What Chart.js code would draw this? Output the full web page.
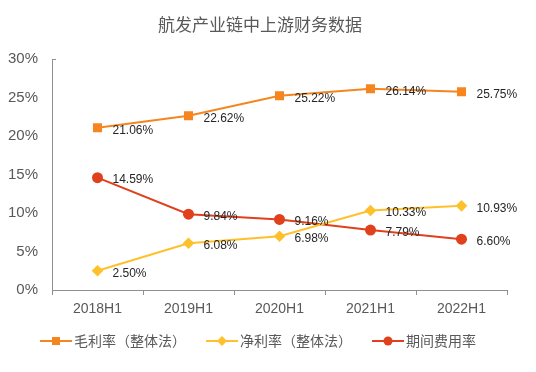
<!DOCTYPE html>
<html>
<head>
<meta charset="utf-8">
<script src="https://cdn.jsdelivr.net/npm/chart.js@4"></script>
<style>
html,body{margin:0;padding:0;background:#fff;}
#wrap{width:536px;height:372px;position:relative;}
</style>
</head>
<body>
<div id="wrap"><canvas id="c" width="536" height="372"></canvas></div>
<script>
const chartTitle = '航发产业链中上游财务数据';
const categories = ['2018H1', '2019H1', '2020H1', '2021H1', '2022H1'];
const grossMargin = [21.06, 22.62, 25.22, 26.14, 25.75];
const netMargin = [2.50, 6.08, 6.98, 10.33, 10.93];
const expenseRatio = [14.59, 9.84, 9.16, 7.79, 6.60];
const seriesNames = ['毛利率（整体法）', '净利率（整体法）', '期间费用率'];
const yTicks = [0, 5, 10, 15, 20, 25, 30];

const COL_ORANGE = '#F5861F';
const COL_YELLOW = '#FEC02B';
const COL_RED = '#E0401C';
const TEXT_GRAY = '#595959';
const AXIS_GRAY = '#8f8f8f';
const CJK = '"Noto Sans CJK SC", "Noto Sans", sans-serif';
const LAT = '"Liberation Sans", Arial, sans-serif';

const labelsPlugin = {
  id: 'pointLabels',
  afterDatasetsDraw(chart) {
    const ctx = chart.ctx;
    ctx.save();
    ctx.font = '12px ' + LAT;
    ctx.fillStyle = '#262626';
    ctx.textAlign = 'left';
    ctx.textBaseline = 'middle';
    chart.data.datasets.forEach((ds, i) => {
      const meta = chart.getDatasetMeta(i);
      meta.data.forEach((pt, j) => {
        ctx.fillText(ds.data[j].toFixed(2) + '%', pt.x + 15, pt.y + 2.5);
      });
    });
    ctx.restore();
  }
};

const titleLegendPlugin = {
  id: 'titleLegend',
  afterDraw(chart) {
    const ctx = chart.ctx;
    ctx.save();
    // title
    ctx.font = '17px ' + CJK;
    ctx.fillStyle = TEXT_GRAY;
    ctx.textAlign = 'center';
    ctx.textBaseline = 'middle';
    ctx.fillText(chartTitle, 260, 25);
    // small stub at top of the y axis
    const ya = chart.scales.y;
    ctx.strokeStyle = AXIS_GRAY;
    ctx.lineWidth = 1;
    ctx.beginPath();
    ctx.moveTo(ya.right, ya.top + 0.5);
    ctx.lineTo(ya.right + 4, ya.top + 0.5);
    ctx.stroke();
    // legend
    ctx.font = '14px ' + CJK;
    const markerW = 32, gapText = 2, gapItem = 20;
    const items = chart.data.datasets.map(ds => ({
      ds, w: markerW + gapText + ctx.measureText(ds.label).width
    }));
    const total = items.reduce((s, it) => s + it.w, 0) + gapItem * (items.length - 1);
    let x = 258 - total / 2;
    const y = 341;
    items.forEach(it => {
      const ds = it.ds;
      ctx.strokeStyle = ds.borderColor;
      ctx.lineWidth = 2;
      ctx.beginPath();
      ctx.moveTo(x, y);
      ctx.lineTo(x + markerW, y);
      ctx.stroke();
      ctx.fillStyle = ds.backgroundColor;
      const cx = x + markerW / 2;
      ctx.beginPath();
      if (ds.pointStyle === 'rect') {
        ctx.rect(cx - 4, y - 4, 8, 8);
      } else if (ds.pointStyle === 'rectRot') {
        ctx.moveTo(cx - 5, y); ctx.lineTo(cx, y - 5); ctx.lineTo(cx + 5, y); ctx.lineTo(cx, y + 5); ctx.closePath();
      } else {
        ctx.arc(cx, y, 4.5, 0, Math.PI * 2);
      }
      ctx.fill();
      ctx.fillStyle = TEXT_GRAY;
      ctx.textAlign = 'left';
      ctx.textBaseline = 'middle';
      ctx.fillText(ds.label, x + markerW + gapText, y);
      x += it.w + gapItem;
    });
    ctx.restore();
  }
};

new Chart(document.getElementById('c'), {
  type: 'line',
  data: {
    labels: categories,
    datasets: [
      { label: seriesNames[0], data: grossMargin, borderColor: COL_ORANGE, backgroundColor: COL_ORANGE,
        pointStyle: 'rect', pointRadius: 6.4, pointHoverRadius: 6.4, borderWidth: 2, pointBorderWidth: 0 },
      { label: seriesNames[1], data: netMargin, borderColor: COL_YELLOW, backgroundColor: COL_YELLOW,
        pointStyle: 'rectRot', pointRadius: 5.8, pointHoverRadius: 5.8, borderWidth: 2, pointBorderWidth: 0 },
      { label: seriesNames[2], data: expenseRatio, borderColor: COL_RED, backgroundColor: COL_RED,
        pointStyle: 'circle', pointRadius: 5.5, pointHoverRadius: 5.5, borderWidth: 2, pointBorderWidth: 0 }
    ]
  },
  options: {
    responsive: false,
    animation: false,
    events: [],
    layout: { padding: { left: 0, right: 29, top: 59, bottom: 0 } },
    plugins: {
      legend: { display: false },
      title: { display: false },
      tooltip: { enabled: false }
    },
    scales: {
      x: {
        offset: true,
        grid: { offset: true, drawOnChartArea: false, drawTicks: true, tickLength: 5, color: AXIS_GRAY },
        border: { display: true, color: AXIS_GRAY, width: 1 },
        ticks: { font: { size: 14, family: LAT }, color: TEXT_GRAY, padding: 6, maxRotation: 0 },
        afterFit(scale) { scale.height = 82; }
      },
      y: {
        min: 0, max: 30,
        afterBuildTicks(scale) { scale.ticks = yTicks.map(v => ({ value: v })); },
        grid: { display: true, drawOnChartArea: false, drawTicks: false },
        border: { display: true, color: AXIS_GRAY, width: 1 },
        ticks: { font: { size: 15, family: LAT }, color: TEXT_GRAY, padding: 14, callback: v => v + '%' },
        afterFit(scale) { scale.width = 52; }
      }
    }
  },
  plugins: [labelsPlugin, titleLegendPlugin]
});
</script>
</body>
</html>
